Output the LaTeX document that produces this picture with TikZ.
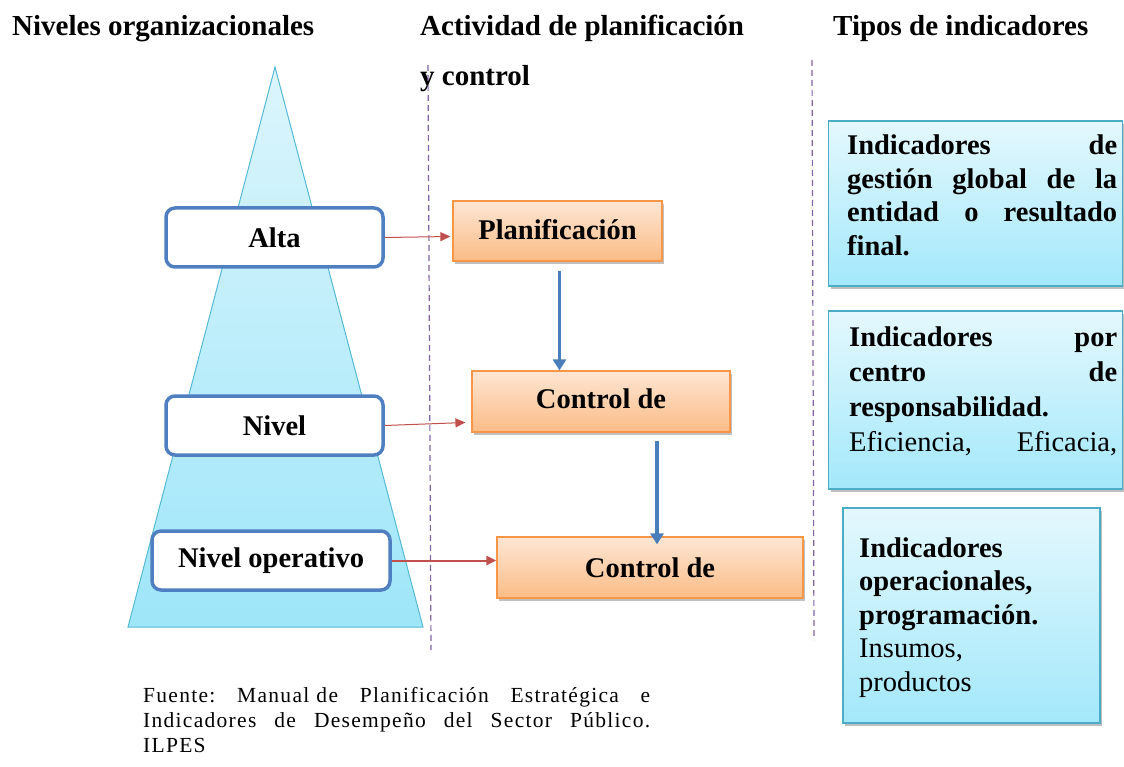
\documentclass[tikz,border=0pt]{standalone}
\usepackage{fontspec}
\setmainfont{Liberation Serif}
\newfontfamily\srcfont[LetterSpace=6]{Liberation Serif}
\usetikzlibrary{arrows.meta,shadows}
\definecolor{triTop}{HTML}{DCF5FC}
\definecolor{triBot}{HTML}{9EE6F9}
\definecolor{triLine}{HTML}{55BAD5}
\definecolor{lvlLine}{HTML}{4F7FC0}
\definecolor{orTop}{HTML}{FDE6D4}
\definecolor{orBot}{HTML}{FBBC86}
\definecolor{orLine}{HTML}{F79646}
\definecolor{inTop}{HTML}{E4F8FD}
\definecolor{inBot}{HTML}{A3E8FB}
\definecolor{inLine}{HTML}{4BACC6}
\definecolor{redA}{HTML}{C0504D}
\definecolor{blueA}{HTML}{4A7EBB}
\definecolor{purp}{HTML}{8064A2}
\tikzset{
  title/.style={font=\bfseries\fontsize{29}{33}\selectfont, inner sep=0pt, anchor=base west},
  lvlbox/.style={draw=lvlLine, line width=3.5pt, fill=white, rounded corners=9pt,
    minimum height=59pt, font=\bfseries\fontsize{28.5}{32}\selectfont, inner sep=0pt},
  actbox/.style={draw=orLine, line width=1.2pt, top color=orTop, bottom color=orBot,
    minimum height=60pt, font=\bfseries\fontsize{28.5}{32}\selectfont, inner sep=0pt,
    drop shadow={shadow xshift=2pt, shadow yshift=-3pt, opacity=0.25, fill=black}},
  indbox/.style={draw=inLine, line width=1.2pt, top color=inTop, bottom color=inBot,
    inner sep=0pt,
    drop shadow={shadow xshift=2pt, shadow yshift=-3pt, opacity=0.25, fill=black}},
  itext/.style={inner sep=0pt, anchor=base west, align=left},
  redarr/.style={draw=redA, line width=1pt, -{Triangle[length=10pt,width=9pt]}},
  bluearr/.style={draw=blueA, line width=3.5pt, -{Triangle[length=11pt,width=13pt]}},
  vline/.style={draw=purp, line width=1.2pt, dash pattern=on 6pt off 4pt},
}
\newcommand{\jl}[2]{\leavevmode\hbox to #1{#2}}
\begin{document}
\begin{tikzpicture}[x=1pt,y=-1pt]
\useasboundingbox (0,0) rectangle (1124,767);
% headings
\node[title] (h1) at (12,36) {Niveles organizacionales};
\node[title] (h2) at (420,36) {Actividad de planificación};
\node[title] (h2b) at (420,86) {y control};
\node[title] (h3) at (833,36) {Tipos de indicadores};
% separators
\draw[vline] (428,65) -- (431,650);
\draw[vline] (812,60) -- (814,640);
% pyramid
\draw[triLine, line width=1pt, top color=triTop, bottom color=triBot] (275,67) -- (423,627) -- (128,627) -- cycle;
% level boxes
\node[lvlbox, minimum width=217pt] (alta) at (274.5,237.5) {\raisebox{-2pt}{Alta}};
\node[lvlbox, minimum width=217pt] (nivel) at (274.5,425.5) {\raisebox{-2pt}{Nivel}};
\node[lvlbox, minimum width=238pt] (nop) at (271,560.5) {Nivel operativo};
% activity boxes
\node[actbox, minimum width=209pt] (plan) at (557.5,231) {\raisebox{4pt}{Planificación}};
\node[actbox, minimum width=258pt, minimum height=61pt] (ctl1) at (601,401.5) {\raisebox{6pt}{Control de}};
\node[actbox, minimum width=306pt, minimum height=61pt] (ctl2) at (650,567.5) {Control de};
% indicator boxes
\node[indbox, minimum width=294pt, minimum height=165pt] (ib1) at (975.5,203.5) {};
\node[indbox, minimum width=294pt, minimum height=178pt] (ib2) at (975.5,400) {};
\node[indbox, minimum width=257pt, minimum height=215pt] (ib3) at (971.5,615.5) {};
\node[itext, text width=270pt, font=\bfseries\fontsize{28.5}{33.5}\selectfont] (t1) at (847,155)
  {\jl{270pt}{Indicadores\hfill de}\\ \jl{270pt}{gestión\hfill global\hfill de\hfill la}\\ \jl{270pt}{entidad\hfill o\hfill resultado}\\ final.};
\node[itext, text width=268pt, font=\fontsize{28.5}{35.3}\selectfont] (t2) at (849,346)
  {\jl{268pt}{\bfseries Indicadores\hfill por}\\ \jl{268pt}{\bfseries centro\hfill de}\\ \textbf{responsabilidad.}\\ \jl{268pt}{Eficiencia,\hfill Eficacia,}};
\node[itext, text width=235pt, font=\fontsize{28.5}{33.5}\selectfont] (t3) at (859,557)
  {\textbf{Indicadores}\\ \textbf{operacionales,}\\ \textbf{programación.}\\ Insumos,\\ productos};
% connectors
\draw[redarr] (alta.east) -- ([xshift=-2pt,yshift=1pt]alta.east -| plan.west);
\draw[redarr] (nivel.east) -- ([xshift=-6pt,yshift=3pt]nivel.east -| ctl1.west);
\draw[redarr, line width=2pt] (nop.east) -- (nop.east -| ctl2.west);
\draw[bluearr] ([xshift=2pt,yshift=-9pt]plan.south) -- ([xshift=2pt]plan.south |- ctl1.north);
\draw[bluearr, shorten >=-8pt] ([xshift=56pt,yshift=-8pt]ctl1.south) -- ([xshift=56pt]ctl1.south |- ctl2.north);
% source
\node[itext, text width=507pt, font=\srcfont\fontsize{21.5}{25}\selectfont] (src) at (143,702)
  {\jl{507pt}{Fuente:\hfill Manual de\hfill Planificación\hfill Estratégica\hfill e}\\ \jl{507pt}{Indicadores\hfill de\hfill Desempeño\hfill del\hfill Sector\hfill Público.}\\ ILPES};
\end{tikzpicture}
\end{document}
